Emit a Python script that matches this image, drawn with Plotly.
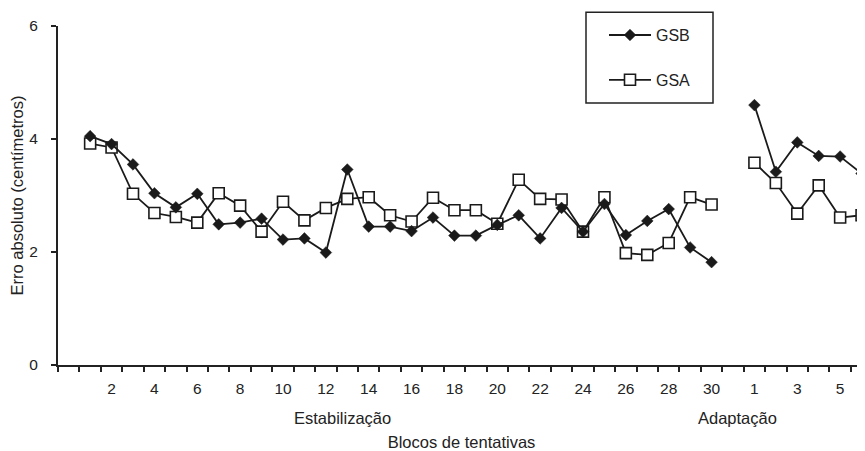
import plotly.graph_objects as go

# Data
stab_labels = [str(i) for i in range(1, 31)]
adapt_labels = [str(i) for i in range(1, 7)]

gsb_stab = [4.05, 3.91, 3.55, 3.04, 2.79, 3.03, 2.49, 2.52, 2.59, 2.22,
            2.24, 1.99, 3.46, 2.45, 2.45, 2.37, 2.61, 2.29, 2.29, 2.48,
            2.65, 2.24, 2.78, 2.36, 2.85, 2.30, 2.55, 2.76, 2.08, 1.82]
gsb_adapt = [4.60, 3.42, 3.94, 3.70, 3.69, 3.39]

gsa_stab = [3.92, 3.85, 3.03, 2.69, 2.62, 2.52, 3.04, 2.82, 2.36, 2.89,
            2.56, 2.78, 2.94, 2.97, 2.65, 2.54, 2.96, 2.74, 2.74, 2.50,
            3.28, 2.94, 2.93, 2.36, 2.97, 1.98, 1.95, 2.16, 2.97, 2.84]
gsa_adapt = [3.58, 3.22, 2.68, 3.18, 2.61, 2.65]

y_ticks = [0, 2, 4, 6]

# Category layout: blank, 1..30, blank, 1..6
cats = [""] + stab_labels + [""] + adapt_labels
x_stab = list(range(1, 1 + len(stab_labels)))
x_adapt = list(range(2 + len(stab_labels), 2 + len(stab_labels) + len(adapt_labels)))
x_all = x_stab + [None] + x_adapt

FONT = "Arial, Liberation Sans, Helvetica, sans-serif"

# page offset of the figure (browser body margin)
OFF = 8
L, T, B = 58 - OFF, 26 - OFF, 82
W, H = 865 - OFF, 451 - OFF
PW = W - L
PH = H - T - B


def px_x(p):
    return (p - OFF - L) / PW


def px_y(p):
    return (H - B - (p - OFF)) / PH


fig = go.Figure()
fig.add_trace(go.Scatter(
    x=x_all, y=gsa_stab + [None] + gsa_adapt, name="GSA",
    mode="lines+markers", connectgaps=False,
    line=dict(color="#1a1a1a", width=1.8),
    marker=dict(symbol="square", size=11, color="white",
                line=dict(color="#1a1a1a", width=1.6)),
    legendgroup="b", legendrank=2,
))
fig.add_trace(go.Scatter(
    x=x_all, y=gsb_stab + [None] + gsb_adapt, name="GSB",
    mode="lines+markers", connectgaps=False,
    line=dict(color="#1a1a1a", width=1.8),
    marker=dict(symbol="diamond", size=9, color="#1a1a1a",
                line=dict(color="#1a1a1a", width=0.5)),
    legendgroup="a", legendrank=1,
))

tickvals = [i for i in range(len(cats)) if i % 2 == 0 and cats[i] != ""]
ticktext = [cats[i] for i in tickvals]
minor_vals = [i - 0.5 for i in range(len(cats) + 1)]

fig.update_layout(
    width=W, height=H,
    margin=dict(l=L, r=0, t=T, b=B),
    paper_bgcolor="white", plot_bgcolor="white",
    font=dict(family=FONT, size=16, color="#222"),
    showlegend=True,
    legend=dict(
        x=px_x(604), xanchor="left",
        y=px_y(18), yanchor="top",
        bgcolor="rgba(0,0,0,0)", borderwidth=0,
        font=dict(size=16, family=FONT, color="#222"),
        tracegroupgap=21, itemwidth=42,
    ),
    xaxis=dict(
        range=[-0.5, 37.16],
        tickmode="array", tickvals=tickvals, ticktext=ticktext,
        ticks="outside", ticklen=5, tickcolor="rgba(0,0,0,0)",
        ticklabelstandoff=3,
        tickfont=dict(size=15.5, family=FONT, color="#222"),
        minor=dict(tickmode="array", tickvals=minor_vals, ticks="outside",
                   ticklen=5, tickwidth=1.5, tickcolor="#222", showgrid=False),
        showline=True, linecolor="#222", linewidth=2,
        showgrid=False, zeroline=False,
        title=dict(text="Blocos de tentativas", standoff=43,
                   font=dict(size=16.5, family=FONT, color="#222")),
    ),
    yaxis=dict(
        range=[0, 6],
        tickmode="array", tickvals=y_ticks,
        ticks="outside", ticklen=5, tickwidth=1.5, tickcolor="#222",
        ticklabelstandoff=10,
        tickfont=dict(size=15.5, family=FONT, color="#222"),
        showline=True, linecolor="#222", linewidth=2,
        showgrid=False, zeroline=False,
        title=dict(text="Erro absoluto (centímetros)", standoff=2,
                   font=dict(size=16.5, family=FONT, color="#222")),
    ),
    shapes=[dict(type="rect", xref="paper", yref="paper",
                 x0=px_x(586), x1=px_x(713),
                 y0=px_y(104), y1=px_y(12),
                 line=dict(color="#222", width=1.5), fillcolor="rgba(0,0,0,0)")],
    annotations=[
        dict(text="Estabilização", x=12.76, xref="x", y=px_y(423), yref="paper",
             showarrow=False, xanchor="center", yanchor="middle",
             font=dict(size=16.5, family=FONT, color="#222")),
        dict(text="Adaptação", x=31.2, xref="x", y=px_y(423), yref="paper",
             showarrow=False, xanchor="center", yanchor="middle",
             font=dict(size=16.5, family=FONT, color="#222")),
    ],
)

fig.write_html("out.html")
